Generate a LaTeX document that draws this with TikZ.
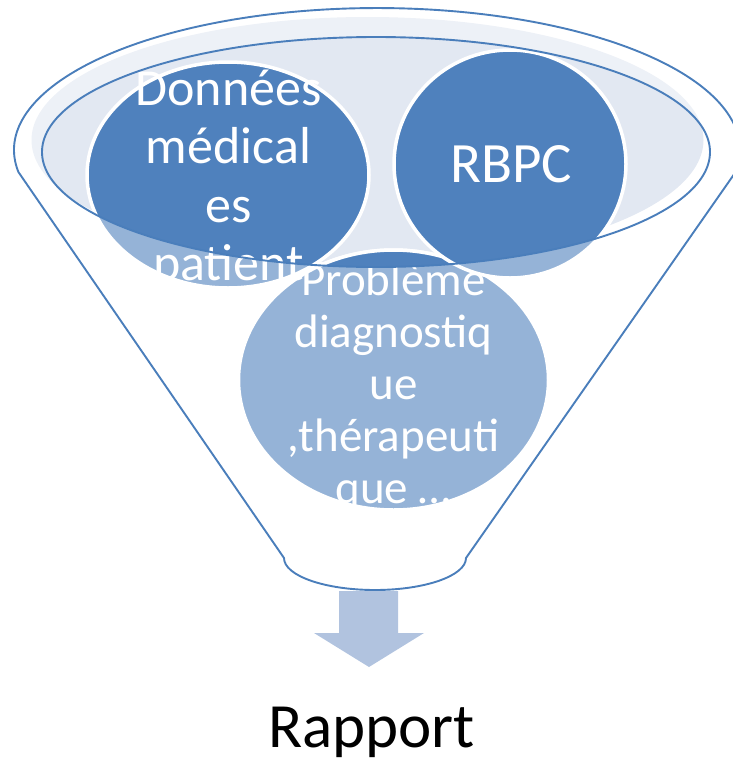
\documentclass[tikz,border=0pt]{standalone}
\usepackage{fontspec}
\setmainfont{Carlito}
\definecolor{discblue}{HTML}{4F81BD}
\definecolor{funnelline}{HTML}{4A7EBB}
\definecolor{mouthfill}{HTML}{E2E8F2}
\definecolor{arrowfill}{HTML}{B1C3DF}
\begin{document}
\begin{tikzpicture}[x=1pt,y=-1pt,
  rim/.style={draw=funnelline, line width=1.9pt, line join=round},
  disc/.style={fill=discblue, draw=white, line width=3.5pt},
  disctext/.style={text=white, inner sep=0pt, anchor=base},
  bigtext/.style={disctext, font=\fontsize{52}{58}\selectfont},
  midtext/.style={disctext, font=\fontsize{47}{52}\selectfont},
]
\useasboundingbox (0,0) rectangle (733,763);
\clip (0,0) rectangle (733,763);

% centres of the funnel rim, its mouth and the three discs
\coordinate (rimc) at (377,150);
\coordinate (mouthc) at (376,152);
\coordinate (glowc) at (367.5,140);
\coordinate (c1) at (228,175);
\coordinate (c2) at (510,164);
\coordinate (c3) at (393.5,380);

% pale inside of the funnel mouth
\fill[mouthfill] (glowc) ellipse [x radius=336, y radius=123];

% lower disc and its text
\path[disc] (c3) ellipse [x radius=155, y radius=130];
\node[midtext] (p1) at (393.5,295) {Problème};
\node[midtext] (p2) at (393.5,347) {diagnostiq};
\node[midtext] (p3) at (393.5,399) {ue};
\node[midtext] (p4) at (393.5,451) {,thérapeuti};
\node[midtext] (p5) at (393.5,503) {que …};
% the part of the lower disc seen through the mouth
\begin{scope}
  \clip (mouthc) ellipse [x radius=334, y radius=115];
  \path[disc] (c3) ellipse [x radius=155, y radius=130];
\end{scope}

% upper discs
\path[disc] (c1) ellipse [x radius=141, y radius=113];
\path[disc] (c2) ellipse [x radius=116, y radius=114];

% translucent body of the funnel (everything but the mouth)
\fill[white, fill opacity=0.4, even odd rule]
  (18.4,172) arc[start angle=171.1, end angle=368.9, x radius=363, y radius=142]
  -- (466,558) arc[start angle=0, end angle=180, x radius=91, y radius=32] -- cycle
  (mouthc) ellipse [x radius=334, y radius=115];

% texts of the upper discs
\node[bigtext] (d1) at (228.5,105) {Données};
\node[bigtext] (d2) at (228.5,163.5) {médical};
\node[bigtext] (d3) at (228.5,222) {es};
\node[bigtext] (d4) at (228.5,280.5) {patient};
\node[disctext, font=\fontsize{57}{68}\selectfont] (rbpc) at (511,182) {RBPC};

% output arrow
\fill[arrowfill] (339,591) -- (398,591) -- (398,633) -- (424,633) -- (369,667)
  -- (314,633) -- (339,633) -- cycle;

% funnel outline and mouth rim
\draw[rim]
  (18.4,172) arc[start angle=171.1, end angle=368.9, x radius=363, y radius=142]
  -- (466,558) arc[start angle=0, end angle=180, x radius=91, y radius=32] -- cycle;
\draw[rim] (mouthc) ellipse [x radius=334, y radius=115];

% result
\node[inner sep=0pt, anchor=base, font=\fontsize{63}{76}\selectfont] (rapport)
  at (371.5,747) {Rapport};
\end{tikzpicture}
\end{document}
